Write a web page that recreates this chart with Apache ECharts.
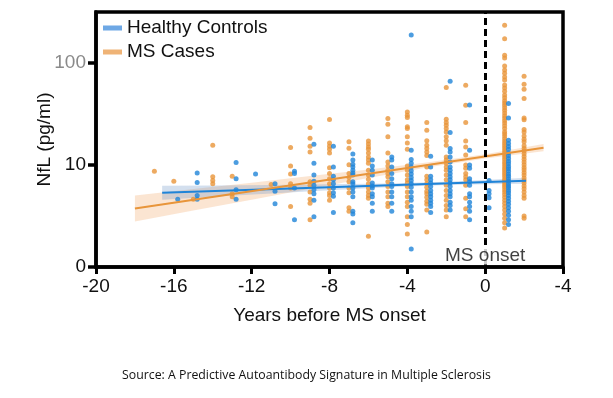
<!DOCTYPE html>
<html>
<head>
<meta charset="utf-8">
<script src="https://cdn.jsdelivr.net/npm/echarts@6/dist/echarts.min.js"></script>
<style>
html,body{margin:0;padding:0;background:#fff;}
#main{width:613px;height:398px;}
</style>
</head>
<body>
<div id="main"></div>
<script>
// axis ticks and labels (right-most label reads "-4" in the source figure)
var xTicks = [-20, -16, -12, -8, -4, 0, 4];
var xTickLabels = ['-20', '-16', '-12', '-8', '-4', '0', '-4'];
var yTicks = [1, 10, 100];
var yTickLabels = ['0', '10', '100'];

// Healthy controls: column position (years) and NfL values (pg/ml)
var hcYears = [-15.8, -14.8, -12.8, -11.8, -10.8, -9.8, -8.8, -7.8, -6.8, -5.8, -4.8, -3.8, -2.8, -1.8, -0.8, 0.2, 1.2];
var hcValues = [
  [4.6],
  [8.3, 6.7, 5.0, 4.6],
  [10.5, 7.3, 5.7, 4.6],
  [8.1],
  [6.5, 5.5, 4.15],
  [8.6, 8.2, 5.9, 2.9],
  [15.8, 10.3, 7.9, 6.9, 6.3, 5.7, 5.2, 4.5, 3.1],
  [15.1, 9.5, 7.7, 7.1, 6.5, 5.9, 5.3, 4.9, 3.4],
  [12.7, 11.1, 10.1, 9.5, 8.8, 8.3, 7.9, 6.8, 6.5, 5.9, 5.4, 4.85, 3.5, 3.3, 2.7],
  [11.1, 9.7, 8.8, 7.9, 6.6, 6.2, 5.9, 5.2, 4.85, 4.2, 3.5],
  [11.9, 11.1, 9.5, 8.2, 7.3, 6.5, 6.1, 5.4, 4.85, 4.2, 3.5],
  [185, 13.8, 11.2, 10.3, 9.5, 8.7, 8.1, 7.5, 7.0, 6.5, 6.0, 5.4, 4.85, 4.5, 3.9, 3.5, 3.1, 1.5],
  [12.1, 9.5, 7.7, 7.1, 6.6, 6.1, 5.6, 5.2, 4.85, 4.5, 4.2, 3.9, 3.4],
  [65.3, 20.6, 14.4, 13.3, 11.9, 10.6, 9.5, 8.8, 8.2, 7.6, 7.1, 6.6, 6.1, 5.6, 5.2, 4.85, 4.3, 4.0, 3.6],
  [38.3, 13.8, 9.9, 9.2, 7.3, 6.8, 6.3, 5.2, 4.85, 4.3, 3.9, 3.5, 2.9],
  [7.0, 5.6, 5.2, 4.75, 3.8],
  [39.5, 28.6, 17.3, 16.1, 15.0, 14.1, 13.0, 12.2, 11.5, 10.8, 10.2, 9.6, 9.1, 8.6, 8.1, 7.7, 7.3, 6.9, 6.5, 6.2, 5.9, 5.6, 5.3, 5.0, 4.7, 4.4, 4.1, 3.8, 3.5, 3.2, 2.9, 2.6]
];

// MS cases
var msYears = [-17, -16, -15, -14, -13, -11, -10, -9, -8, -7, -6, -5, -4, -3, -2, -1, 1, 2];
var msValues = [
  [8.6],
  [6.9],
  [4.6],
  [15.5, 7.6, 7.0, 6.5],
  [7.7, 5.2, 4.85],
  [6.4],
  [14.7, 9.7, 8.1, 6.5, 5.9, 3.9],
  [23, 18.1, 15.1, 13.3, 6.8, 6.3, 5.4, 4.6, 4.2, 2.9],
  [27.6, 16.3, 15.1, 14.1, 13.0, 9.3, 8.2, 7.3, 6.5, 5.9, 5.3, 5.0, 4.5],
  [16.7, 14.5, 10.0, 8.2, 7.5, 6.8, 5.9, 5.3, 3.8, 3.5],
  [17, 15.9, 14.9, 14.1, 13, 11.9, 11.1, 10.3, 8.8, 7.9, 7.2, 6.5, 5.9, 5.4, 5.0, 4.7, 2.0],
  [28.2, 24.8, 18.7, 13, 10.6, 9.7, 8.8, 8.2, 7.6, 6.8, 6.1, 5.4, 4.85, 4.2, 3.9],
  [32.7, 30.4, 28.9, 23.4, 22.6, 18.7, 16.3, 14.1, 9.7, 8.8, 7.9, 7.1, 6.6, 6.1, 5.4, 4.85, 4.3, 3.9, 3.1, 2.6, 2.1],
  [25.8, 21.7, 17.1, 15.5, 14.4, 13.3, 12.3, 9.5, 7.7, 7.1, 6.5, 6.0, 5.5, 5.2, 4.8, 4.4, 4.1, 3.6, 2.2],
  [56.6, 27.8, 25.8, 24.3, 22.6, 20.9, 18.7, 17.1, 15.5, 11.9, 11.1, 10.3, 9.5, 8.8, 7.9, 7.1, 6.3, 5.6, 5.0, 4.5, 4.0, 3.6, 3.1],
  [59.7, 38, 25.8, 17, 14.9, 12.4, 9.9, 9.2, 8.2, 7.6, 7.1, 6.3, 4.7, 3.7, 3.1],
  [230, 170, 117, 110, 92, 84, 78, 72, 67, 60, 56, 52, 48, 45, 42, 40, 38, 36, 34, 32, 30, 28.5, 27, 25.5, 24, 22.5, 21, 20, 19, 18, 17, 16.2, 15.4, 14.6, 13.9, 13.2, 12.5, 11.9, 11.3, 10.7, 10.2, 9.7, 9.2, 8.8, 8.4, 8.0, 7.6, 7.2, 6.9, 6.6, 6.3, 6.0, 5.7, 5.4, 5.1, 4.8, 4.5, 4.2, 3.9, 3.6, 3.3, 3.0, 2.7, 2.4],
  [73, 61, 54.5, 44.3, 28.6, 27.5, 22, 20.9, 19.1, 17.7, 16.7, 15.3, 14.4, 13.6, 12.8, 12.0, 11.3, 10.6, 10.0, 9.4, 8.9, 8.4, 7.9, 7.4, 7.0, 6.6, 6.2, 5.8, 5.4, 5.0, 4.7, 3.15, 3.0]
];

// fitted trend lines and their confidence bands
var hcFitX = [-16.6, 2.1];
var hcFitY = [5.31, 6.95];
var hcBandX = [-16.6, -14, -11, -8, -5, -2, 0, 2.1];
var hcBandLow = [4.54, 4.85, 5.23, 5.63, 6.03, 6.32, 6.43, 6.50];
var hcBandHigh = [6.21, 6.27, 6.34, 6.42, 6.54, 6.79, 7.07, 7.43];

var msFitX = [-18, 3];
var msFitY = [3.73, 14.6];
var msBandX = [-18, -15, -12, -9, -6, -3, 0, 3];
var msBandLow = [2.78, 3.56, 4.55, 5.80, 7.40, 9.36, 11.47, 13.49];
var msBandHigh = [4.99, 5.77, 6.67, 7.73, 8.97, 10.47, 12.63, 15.88];

var onsetX = 0;
var onsetLabelAt = [0, 1.28];

var BLUE = '#1f84d8';
var ORANGE = '#e8953a';
var FONT = 'Liberation Sans';

function columns(xs, vals) {
  var out = [];
  for (var i = 0; i < xs.length; i++) {
    for (var j = 0; j < vals[i].length; j++) out.push([xs[i], vals[i][j]]);
  }
  return out;
}
function pairs(xs, ys) {
  return xs.map(function (x, i) { return [x, ys[i]]; });
}
function band(xs, lo, hi, fill, z) {
  return {
    type: 'custom', silent: true, z: z,
    data: [[xs[0], lo[0]]],
    renderItem: function (params, api) {
      var pts = [];
      for (var i = 0; i < xs.length; i++) pts.push(api.coord([xs[i], hi[i]]));
      for (var k = xs.length - 1; k >= 0; k--) pts.push(api.coord([xs[k], lo[k]]));
      return { type: 'polygon', shape: { points: pts }, style: { fill: fill } };
    }
  };
}

var chart = echarts.init(document.getElementById('main'));
var option = {
  animation: false,
  textStyle: { fontFamily: FONT },
  title: {
    text: 'Source: A Predictive Autoantibody Signature in Multiple Sclerosis',
    left: 'center', top: 364,
    textStyle: { fontSize: 12.3, fontWeight: 'normal', fontFamily: 'Open Sans', color: '#111' }
  },
  legend: {
    orient: 'vertical', left: 103, top: 17, padding: 0,
    itemWidth: 19, itemHeight: 5, itemGap: 2, selectedMode: false,
    textStyle: { fontSize: 19, lineHeight: 22, color: '#111', fontFamily: FONT },
    data: [
      { name: 'Healthy Controls', icon: 'rect', itemStyle: { color: '#4a92de' } },
      { name: 'MS Cases', icon: 'rect', itemStyle: { color: '#eba054' } }
    ]
  },
  grid: { left: 96, right: 50, top: 12, bottom: 131, show: true, borderColor: '#000', borderWidth: 3.5, backgroundColor: 'transparent' },
  xAxis: {
    type: 'value', min: -20, max: 4, interval: 4,
    name: 'Years before MS onset', nameLocation: 'middle', nameGap: 39, nameMoveOverlap: false,
    nameTextStyle: { fontSize: 19, color: '#111', fontFamily: FONT },
    axisLine: { onZero: false, lineStyle: { color: '#000', width: 3.5 } },
    axisTick: { length: 7, lineStyle: { color: '#000', width: 3 } },
    axisLabel: {
      fontSize: 19, color: '#111', margin: 10, fontFamily: FONT,
      formatter: function (v) { var i = xTicks.indexOf(v); return i >= 0 ? xTickLabels[i] : ''; }
    },
    splitLine: { show: false }
  },
  yAxis: {
    type: 'log', logBase: 10, min: 1, max: 310,
    name: 'NfL (pg/ml)', nameLocation: 'middle', nameGap: 42, nameMoveOverlap: false,
    nameTextStyle: { fontSize: 19, color: '#111', fontFamily: FONT },
    axisLine: { show: true, onZero: false, lineStyle: { color: '#000', width: 3.5 } },
    axisTick: { show: true, length: 8, customValues: yTicks, lineStyle: { color: '#000', width: 3.5 } },
    axisLabel: {
      fontSize: 19, color: '#111', margin: 10, fontFamily: FONT, customValues: yTicks,
      formatter: function (v) {
        for (var i = 0; i < yTicks.length; i++) {
          if (Math.abs(yTicks[i] - v) < 1e-6 * yTicks[i]) return i === 2 ? '{g|' + yTickLabels[i] + '}' : yTickLabels[i];
        }
        return '';
      },
      rich: { g: { color: '#8a8a8a', fontSize: 19, fontFamily: FONT } }
    },
    splitLine: { show: false },
    minorTick: { show: false }
  },
  series: [
    band(msBandX, msBandLow, msBandHigh, 'rgba(242,168,105,0.3)', 1),
    band(hcBandX, hcBandLow, hcBandHigh, 'rgba(110,150,200,0.3)', 1),
    {
      name: 'MS Cases', type: 'scatter', z: 3, symbolSize: 5,
      itemStyle: { color: ORANGE },
      data: columns(msYears, msValues)
    },
    {
      name: 'Healthy Controls', type: 'scatter', z: 4, symbolSize: 5,
      itemStyle: { color: BLUE },
      data: columns(hcYears, hcValues)
    },
    {
      name: 'HC fit', type: 'line', z: 5, symbol: 'none', silent: true,
      lineStyle: { color: BLUE, width: 2 },
      data: pairs(hcFitX, hcFitY)
    },
    {
      name: 'MS fit', type: 'line', z: 5, symbol: 'none', silent: true,
      lineStyle: { color: ORANGE, width: 2 },
      data: pairs(msFitX, msFitY)
    },
    {
      name: 'onset', type: 'scatter', z: 6, symbolSize: 0, silent: true,
      data: [onsetLabelAt],
      label: {
        show: true, position: 'inside', formatter: 'MS onset',
        fontSize: 19, lineHeight: 17, color: '#111', fontFamily: FONT,
        backgroundColor: '#fff', padding: 0
      },
      markLine: {
        silent: true, symbol: 'none', z: 6,
        label: { show: false },
        lineStyle: { color: '#000', width: 3, type: [7, 4] },
        data: [{ xAxis: onsetX }]
      }
    }
  ]
};
chart.setOption(option);
</script>
</body>
</html>
